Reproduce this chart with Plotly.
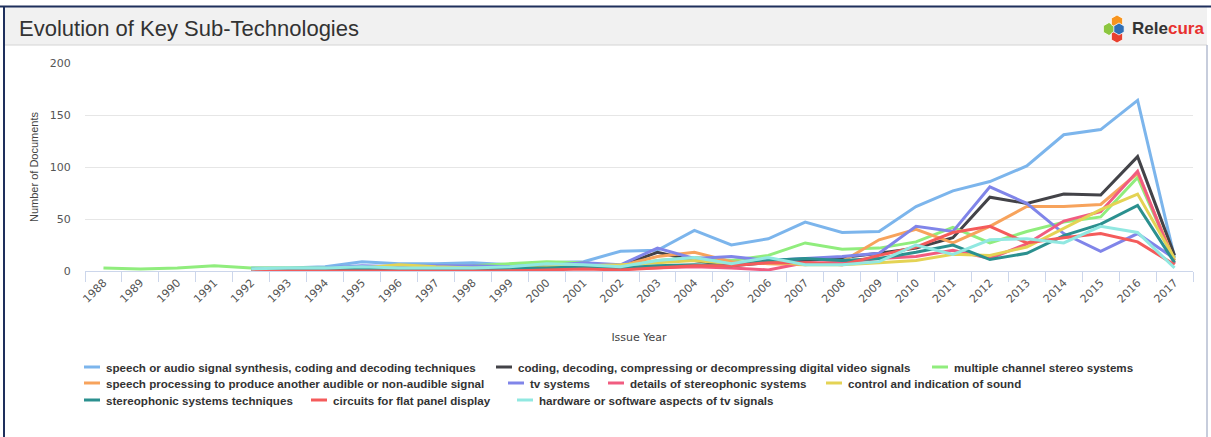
import math
import plotly.graph_objects as go

# ---------------------------------------------------------------- data
years = [str(y) for y in range(1988, 2018)]

series_names = [
    "speech or audio signal synthesis, coding and decoding techniques",
    "coding, decoding, compressing or decompressing digital video signals",
    "multiple channel stereo systems",
    "speech processing to produce another audible or non-audible signal",
    "tv systems",
    "details of stereophonic systems",
    "control and indication of sound",
    "stereophonic systems techniques",
    "circuits for flat panel display",
    "hardware or software aspects of tv signals",
]

speech_audio = [None, None, None, None, 3, 3, 4, 9, 7, 7, 8, 6, 8, 9, 19, 20, 39, 25, 31, 47,
                37, 38, 62, 77, 86, 101, 131, 136, 164, 13]
video_coding = [None, None, None, None, 1, 1, 2, 3, 3, 3, 3, 3, 4, 6, 5, 18, 10, 5, 8, 10,
                13, 17, 22, 32, 71, 65, 74, 73, 110, 15]
multichannel = [3, 2, 3, 5, 3, 3, 3, 4, 4, 4, 5, 7, 9, 8, 4, 10, 13, 10, 15, 27,
                21, 22, 28, 42, 27, 38, 47, 52, 90, 10]
speech_processing = [None, None, None, None, 1, 1, 1, 2, 3, 2, 2, 2, 3, 4, 5, 14, 18, 9, 7, 6,
                     9, 30, 40, 27, 43, 62, 62, 64, 94, 10]
tv_systems = [None, None, None, None, 2, 2, 3, 5, 4, 5, 5, 4, 5, 8, 6, 22, 12, 14, 10, 12,
              14, 17, 43, 38, 81, 65, 36, 19, 36, 12]
stereo_details = [None, None, None, None, 0, 0, 1, 1, 1, 1, 1, 1, 2, 3, 2, 3, 4, 3, 1, 8,
                  8, 12, 14, 20, 12, 26, 48, 57, 96, 7]
sound_control = [None, None, None, None, 1, 1, 2, 3, 6, 4, 3, 3, 4, 5, 6, 8, 10, 7, 9, 6,
                 6, 8, 10, 16, 15, 23, 41, 59, 74, 12]
stereo_techniques = [None, None, None, None, 1, 1, 1, 2, 2, 2, 2, 3, 3, 4, 3, 5, 6, 5, 10, 12,
                     10, 12, 18, 25, 11, 17, 34, 45, 63, 8]
flat_panel = [None, None, None, None, 0, 0, 0, 0, 0, 0, 0, 0, 1, 2, 1, 3, 5, 5, 8, 8,
              6, 15, 23, 37, 43, 27, 32, 36, 28, 6]
tv_signal_hw_sw = [None, None, None, None, 2, 3, 3, 4, 3, 3, 3, 4, 7, 6, 4, 10, 13, 7, 13, 6,
                   6, 9, 25, 16, 30, 31, 27, 43, 37, 3]

series_values = [speech_audio, video_coding, multichannel, speech_processing, tv_systems,
                 stereo_details, sound_control, stereo_techniques, flat_panel, tv_signal_hw_sw]

# ---------------------------------------------------------------- styles
colors = ["#7cb5ec", "#434348", "#90ed7d", "#f7a35c", "#8085e9",
          "#f15c80", "#e4d354", "#2b908f", "#f45b5b", "#91e8e1"]

W, H = 1211, 437
PLOT_L, PLOT_T, PLOT_W, PLOT_H = 85, 63, 1108, 208
SANS = "Liberation Sans, Arial, sans-serif"


def px(x):
    """figure pixel x -> paper x"""
    return (x - PLOT_L) / PLOT_W


def py(y):
    """figure pixel y (from top) -> paper y"""
    return (PLOT_T + PLOT_H - y) / PLOT_H


fig = go.Figure()
for name, vals, col in zip(series_names, series_values, colors):
    fig.add_trace(go.Scatter(
        x=years, y=vals, name=name, mode="lines",
        line=dict(color=col, width=3),
        showlegend=False, connectgaps=False,
        hovertemplate="%{x}: %{y}<extra>" + name + "</extra>",
    ))

shapes = []
annotations = []

# header band and frame
shapes.append(dict(type="rect", xref="paper", yref="paper", layer="below",
                   x0=px(4), x1=px(1207), y0=py(45), y1=py(7),
                   fillcolor="#f1f1f1", line=dict(width=0)))
shapes.append(dict(type="line", xref="paper", yref="paper",
                   x0=px(4), x1=px(1207), y0=py(45), y1=py(45),
                   line=dict(color="#d4d4d4", width=1)))
shapes.append(dict(type="line", xref="paper", yref="paper",
                   x0=px(0), x1=px(1211), y0=py(6.5), y1=py(6.5),
                   line=dict(color="#1e2f5c", width=2)))
shapes.append(dict(type="line", xref="paper", yref="paper",
                   x0=px(4), x1=px(4), y0=py(6), y1=py(437),
                   line=dict(color="#1e2f5c", width=2)))
shapes.append(dict(type="line", xref="paper", yref="paper",
                   x0=px(1207), x1=px(1207), y0=py(45), y1=py(437),
                   line=dict(color="#b4bdd0", width=1.5)))

annotations.append(dict(text="Evolution of Key Sub-Technologies", xref="paper", yref="paper",
                        x=px(17), y=py(29), xanchor="left", yanchor="middle", showarrow=False,
                        font=dict(family=SANS, size=22, color="#333333")))

# logo: hexagon cluster + wordmark


def hexagon(cx, cy, r):
    pts = []
    for k in range(6):
        a = math.radians(90 + 60 * k)
        pts.append((px(cx + r * math.cos(a)), py(cy - r * math.sin(a))))
    return "M " + " L ".join(f"{x:.5f},{y:.5f}" for x, y in pts) + " Z"


for (cx, cy, r, c) in [(1109, 29, 6.5, "#8cc63f"), (1117, 21.5, 6.5, "#f7941d"),
                       (1117, 36.5, 6.5, "#e8402f"), (1119, 29, 6, "#2f6fb6")]:
    shapes.append(dict(type="path", xref="paper", yref="paper", path=hexagon(cx, cy, r),
                       fillcolor=c, line=dict(color="white", width=0.8)))

annotations.append(dict(text="Rele<span style='color:#e8312f'>cura</span>",
                        xref="paper", yref="paper", x=px(1130), y=py(29),
                        xanchor="left", yanchor="middle", showarrow=False,
                        font=dict(family=SANS, size=17, color="#333333", weight="bold")))

# legend rows: (row centre y, swatch left x) per series
legend_slots = [(367, 84), (367, 496), (367, 932),
                (383, 84), (383, 508), (383, 608), (383, 826),
                (400, 84), (400, 311), (400, 517)]
for (ry, sx), name, col in zip(legend_slots, series_names, colors):
    shapes.append(dict(type="line", xref="paper", yref="paper",
                       x0=px(sx), x1=px(sx + 16), y0=py(ry), y1=py(ry),
                       line=dict(color=col, width=3)))
    annotations.append(dict(text=name, xref="paper", yref="paper",
                            x=px(sx + 20), y=py(ry), xanchor="left", yanchor="middle",
                            showarrow=False,
                            font=dict(family=SANS, size=11.6, color="#333333", weight="bold")))

fig.update_layout(
    width=W, height=H,
    margin=dict(l=PLOT_L, r=W - PLOT_L - PLOT_W, t=PLOT_T, b=H - PLOT_T - PLOT_H),
    paper_bgcolor="white", plot_bgcolor="white",
    shapes=shapes, annotations=annotations,
    font=dict(family="DejaVu Sans, sans-serif", size=11, color="#666666"),
    hovermode="closest",
)

fig.update_xaxes(
    type="category", range=[-0.5, len(years) - 0.5],
    showgrid=False, zeroline=False,
    showline=True, linecolor="#ccd6eb", linewidth=1,
    ticks="outside", tickson="boundaries", ticklen=10, tickcolor="#ccd6eb", tickwidth=1,
    tickangle=-45, tickfont=dict(size=11, color="#555555"),
    title=dict(text="Issue Year", standoff=28,
               font=dict(size=11, color="#444444")),
    automargin=False,
)
fig.update_yaxes(
    range=[0, 200], dtick=50, showgrid=True, gridcolor="#e6e6e6", gridwidth=1,
    zeroline=False, showline=False,
    ticks="outside", ticklen=11, tickcolor="rgba(0,0,0,0)",
    tickfont=dict(size=11, color="#555555"),
    title=dict(text="Number of Documents", standoff=8,
               font=dict(family=SANS, size=11, color="#444444")),
    automargin=False,
)

fig.write_html("out.html", config={"displayModeBar": False})
